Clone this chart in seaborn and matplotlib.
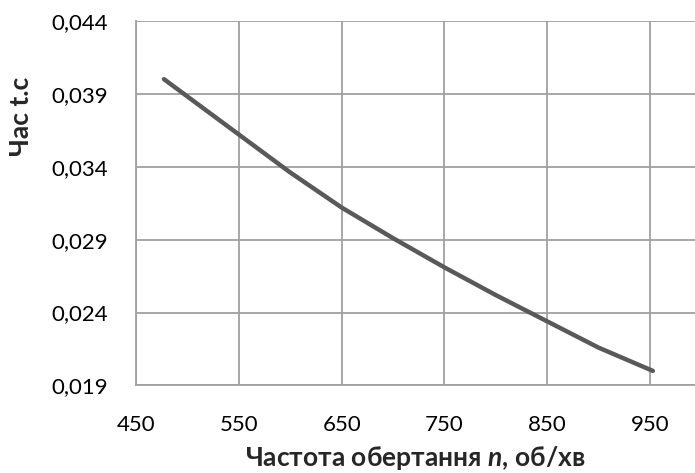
import numpy as np
import pandas as pd
import matplotlib
matplotlib.use("Agg")
import matplotlib.pyplot as plt
import seaborn as sns

# values
n_rpm = [477, 550, 600, 650, 700, 750, 800, 850, 900, 953]
t_sec = [0.0400, 0.0362, 0.0336, 0.0312, 0.0291, 0.0271, 0.0252, 0.0234, 0.0216, 0.0200]
x_ticks = [450, 550, 650, 750, 850, 950]
y_ticks = [0.019, 0.024, 0.029, 0.034, 0.039, 0.044]
y_labels = ["0,019", "0,024", "0,029", "0,034", "0,039", "0,044"]

sns.set_style("white")
plt.rcParams['font.family'] = ['Lato', 'DejaVu Sans']
plt.rcParams.update({'mathtext.fontset': 'custom',
                     'mathtext.bfit': 'Lato:bold:italic',
                     'mathtext.rm': 'Lato',
                     'mathtext.bf': 'Lato:bold'})

df = pd.DataFrame({'n': n_rpm, 't': t_sec})

fig = plt.figure(figsize=(6.95, 4.73), dpi=100)
ax = fig.add_axes([0.196, 0.185, 0.804, 0.771])

sns.lineplot(data=df, x='n', y='t', ax=ax, color='#595959', linewidth=3.2,
             solid_capstyle='round')

ax.set_xlim(450, 994)
ax.set_ylim(0.019, 0.044)
ax.set_xticks(x_ticks)
ax.set_yticks(y_ticks)
ax.set_yticklabels(y_labels)
ax.grid(True, color='#a0a0a0', linewidth=1.3)
ax.set_axisbelow(True)
for s in ['top', 'right']:
    ax.spines[s].set_visible(False)
for s in ['left', 'bottom']:
    ax.spines[s].set_color('#a0a0a0')
    ax.spines[s].set_linewidth(1.3)

ax.tick_params(axis='both', length=0, labelsize=16, colors='black')
ax.tick_params(axis='x', pad=21)
ax.tick_params(axis='y', pad=20)

ax.set_xlabel(r"Частота обертання $\mathbfit{n}$, об/хв", fontsize=19,
              fontweight='bold')
ax.xaxis.set_label_coords(0.5, -0.16)
ax.set_ylabel("Час t.c", fontsize=19, fontweight='bold')
ax.yaxis.set_label_coords(-0.185, 0.737)

fig.savefig("out.png", dpi=100)
